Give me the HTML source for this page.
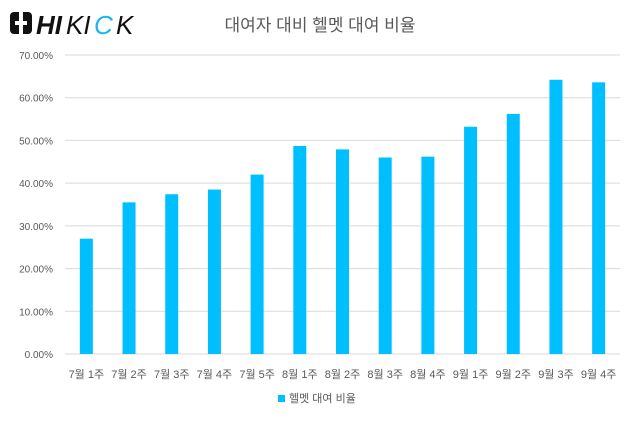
<!DOCTYPE html>
<html><head><meta charset="utf-8"><style>
body{margin:0;background:#fff;}
svg text{font-family:"Liberation Sans","Noto Sans CJK KR",sans-serif;}
</style></head><body>
<svg width="639" height="429" viewBox="0 0 639 429">
<g>
<rect x="10" y="12" width="22" height="22" rx="4" fill="#111"/>
<rect x="15" y="21" width="12" height="4" fill="#fff"/>
<rect x="19" y="12" width="4" height="22" fill="#fff"/>
<text x="36" y="34" font-size="26" font-weight="bold" font-style="italic" fill="#111">HI</text>
<text x="66" y="34" font-size="26" font-style="italic" fill="#111">KI</text>
<text x="94" y="34" font-size="26" font-style="italic" fill="#1ab8f0">C</text>
<text x="116" y="34" font-size="26" font-style="italic" fill="#111">K</text>
</g>
<text x="320" y="31" font-size="17" fill="#595959" text-anchor="middle">대여자 대비 헬멧 대여 비율</text>
<g id="grid"></g><g id="bars"></g><g id="xl"></g>
<rect x="278" y="395" width="7" height="7" fill="#00bfff"/>
<text x="289" y="402" font-size="11" fill="#595959">헬멧 대여 비율</text>
</svg>
<script>
const categories=["7월 1주","7월 2주","7월 3주","7월 4주","7월 5주","8월 1주","8월 2주","8월 3주","8월 4주","9월 1주","9월 2주","9월 3주","9월 4주"];
const values=[27.0,35.5,37.4,38.5,42.0,48.7,47.9,46.0,46.2,53.2,56.2,64.2,63.6];
const ticks=[0,10,20,30,40,50,60,70];
const NS="http://www.w3.org/2000/svg";
const y0=354,yTop=55,x0=65,x1=620;
const y=v=>y0-(v/70)*(y0-yTop);
const step=(x1-x0)/categories.length;
const xc=i=>x0+step*(i+0.5);
const g=document.getElementById('grid'),b=document.getElementById('bars'),xl=document.getElementById('xl');
ticks.forEach(t=>{
 const l=document.createElementNS(NS,'line');
 l.setAttribute('x1',x0);l.setAttribute('x2',x1);l.setAttribute('y1',y(t));l.setAttribute('y2',y(t));
 l.setAttribute('stroke','#d9d9d9');
 
 
 g.appendChild(l);
 const tx=document.createElementNS(NS,'text');
 tx.setAttribute('x',53);tx.setAttribute('y',y(t)+4);tx.setAttribute('text-anchor','end');
 tx.setAttribute('font-size','10');tx.setAttribute('fill','#595959');
 tx.textContent=t.toFixed(2)+'%';
 
 
 g.appendChild(tx);
});
values.forEach((v,i)=>{
 const r=document.createElementNS(NS,'rect');
 r.setAttribute('x',xc(i)-6.5);r.setAttribute('width',13);
 r.setAttribute('y',y(v));r.setAttribute('height',y0-y(v));r.setAttribute('fill','#00bfff');
 
 
 b.appendChild(r);
});
categories.forEach((c,i)=>{
 const tx=document.createElementNS(NS,'text');
 tx.setAttribute('x',xc(i));tx.setAttribute('y',378);tx.setAttribute('text-anchor','middle');
 tx.setAttribute('font-size','11');tx.setAttribute('fill','#595959');
 tx.textContent=c;
 
 
 xl.appendChild(tx);
});
</script>
</body></html>
